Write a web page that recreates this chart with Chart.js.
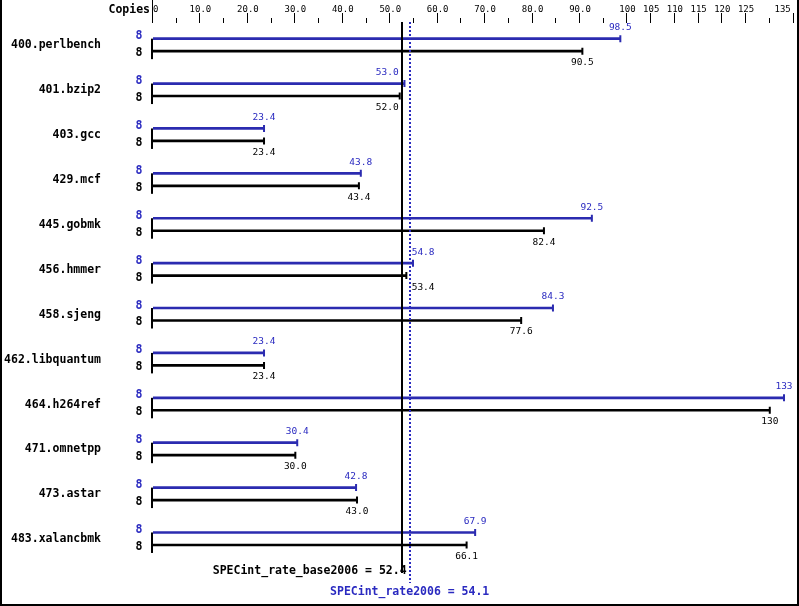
<!DOCTYPE html>
<html><head><meta charset="utf-8">
<script src="https://cdn.jsdelivr.net/npm/chart.js@4/dist/chart.umd.min.js"></script>
<style>html,body{margin:0;padding:0;background:#fff}#wrap{width:799px;height:606px;position:relative}</style>
</head><body><div id="wrap"><canvas id="c" width="799" height="606"></canvas></div>
<script>
const benchmarks = ["400.perlbench","401.bzip2","403.gcc","429.mcf","445.gobmk","456.hmmer","458.sjeng","462.libquantum","464.h264ref","471.omnetpp","473.astar","483.xalancbmk"];
const peakValues = [98.5, 53.0, 23.4, 43.8, 92.5, 54.8, 84.3, 23.4, 133, 30.4, 42.8, 67.9];
const baseValues = [90.5, 52.0, 23.4, 43.4, 82.4, 53.4, 77.6, 23.4, 130, 30.0, 43.0, 66.1];
const peakCopies = [8, 8, 8, 8, 8, 8, 8, 8, 8, 8, 8, 8];
const baseCopies = [8, 8, 8, 8, 8, 8, 8, 8, 8, 8, 8, 8];
const tickValues = [0,5,10,15,20,25,30,35,40,45,50,55,60,65,70,75,80,85,90,95,100,105,110,115,120,125,130,135];
const tickLabels = ["0","","10.0","","20.0","","30.0","","40.0","","50.0","","60.0","","70.0","","80.0","","90.0","","100","105","110","115","120","125","","135"];
const specBaseName = "SPECint_rate_base2006";
const specPeakName = "SPECint_rate2006";
const specBase = 52.4;
const specPeak = 54.1;

const BLUE = "#2b2bb0";
const BLUE_TXT = "#2a2ac0";
const MONO = "'DejaVu Sans Mono', 'Liberation Mono', monospace";
const BASE_OFF = 0.278;

function fmt(v){ return v >= 100 ? String(Math.round(v)) : v.toFixed(1); }

const peakBars = peakValues.map((v,i)=>({x:v, y:i}));
const baseBars = baseValues.map((v,i)=>({x:v, y:i+BASE_OFF}));

const overlay = {
  id: 'overlay',
  afterDatasetsDraw(chart){
    const ctx = chart.ctx;
    const xs = chart.scales.x, ys = chart.scales.y;
    const x0 = xs.getPixelForValue(0);
    const bPx = xs.getPixelForValue(specBase);
    const pPx = xs.getPixelForValue(specPeak);
    ctx.save();
    // top tick marks
    ctx.fillStyle = '#000';
    tickValues.forEach((v,i)=>{
      const px = Math.round(xs.getPixelForValue(v));
      if (i === 0) { ctx.fillRect(px-1, 0, 1, 23); return; }
      const major = tickLabels[i] !== "";
      ctx.fillRect(px-1, major ? 13 : 18, 1, major ? 10 : 5);
    });
    // header
    ctx.font = "bold 11.5px " + MONO;
    ctx.textBaseline = 'middle';
    ctx.textAlign = 'right';
    ctx.fillText("Copies", 150, 10);
    benchmarks.forEach((name,i)=>{
      const yp = ys.getPixelForValue(i);
      const yb = ys.getPixelForValue(i+BASE_OFF);
      // bracket
      ctx.fillStyle = '#000';
      ctx.fillRect(Math.round(x0)-2, yp, 2, yb - yp + 8);
      // names
      ctx.font = "bold 11.5px " + MONO;
      ctx.textAlign = 'right';
      ctx.fillText(name, 101, (yp+yb)/2 + 0.5);
      // copies
      ctx.textAlign = 'center';
      ctx.fillStyle = BLUE_TXT;
      ctx.fillText(String(peakCopies[i]), 139, yp - 2.5);
      ctx.fillStyle = '#000';
      ctx.fillText(String(baseCopies[i]), 139, yb + 2);
      // values
      ctx.font = "9.5px " + MONO;
      const drawVal = (v, y, color) => {
        const txt = fmt(v);
        const c = xs.getPixelForValue(v);
        const w = ctx.measureText(txt).width;
        let x = c, align = 'center';
        if (c + w/2 > bPx - 2 && c - w/2 < pPx + 2) {
          if (c < (bPx + pPx)/2) { x = bPx - 3; align = 'right'; }
          else { x = pPx + 2; align = 'left'; }
        }
        if (align === 'center' && x + w/2 > 793) { x = 793; align = 'right'; }
        ctx.textAlign = align;
        ctx.fillStyle = color;
        ctx.fillText(txt, x, y);
      };
      drawVal(peakValues[i], yp - 11, BLUE_TXT);
      drawVal(baseValues[i], yb + 11.5, '#000');
    });
    // reference lines
    ctx.fillStyle = '#000';
    ctx.fillRect(Math.round(bPx)-1, 22, 2, 551);
    ctx.strokeStyle = BLUE_TXT;
    ctx.lineWidth = 2;
    ctx.setLineDash([2,2]);
    ctx.beginPath();
    ctx.moveTo(Math.round(pPx), 22);
    ctx.lineTo(Math.round(pPx), 583);
    ctx.stroke();
    ctx.setLineDash([]);
    ctx.font = "bold 11.5px " + MONO;
    ctx.textBaseline = 'middle';
    ctx.fillStyle = '#000';
    ctx.textAlign = 'right';
    ctx.fillText(specBaseName + " = " + specBase.toFixed(1), bPx + 5, 571);
    ctx.fillStyle = BLUE_TXT;
    ctx.textAlign = 'center';
    ctx.fillText(specPeakName + " = " + specPeak.toFixed(1), pPx, 592);
    // frame
    ctx.fillStyle = '#000';
    ctx.fillRect(0, 0, 2, 606);
    ctx.fillRect(797, 0, 2, 606);
    ctx.fillRect(0, 604, 799, 2);
    ctx.restore();
  }
};

new Chart(document.getElementById('c'), {
  type: 'bar',
  data: {
    datasets: [
      { label: 'peak', data: peakBars, backgroundColor: BLUE, barThickness: 2, grouped: false, indexAxis: 'y', order: 2 },
      { label: 'base', data: baseBars, backgroundColor: '#000', barThickness: 2, grouped: false, indexAxis: 'y', order: 2 },
      { type: 'scatter', label: 'peak cap', data: peakBars, showLine: false, pointStyle: 'line', rotation: 90, pointRadius: 3.5, pointHoverRadius: 3.5, borderColor: BLUE, backgroundColor: BLUE, borderWidth: 2, order: 1 },
      { type: 'scatter', label: 'base cap', data: baseBars, showLine: false, pointStyle: 'line', rotation: 90, pointRadius: 3.5, pointHoverRadius: 3.5, borderColor: '#000', backgroundColor: '#000', borderWidth: 2, order: 1 }
    ]
  },
  options: {
    responsive: false,
    animation: false,
    devicePixelRatio: 1,
    events: [],
    indexAxis: 'y',
    layout: { padding: { top: 1.5, left: 153, right: 3, bottom: 46 } },
    plugins: { legend: { display: false }, tooltip: { enabled: false } },
    scales: {
      x: {
        type: 'linear', position: 'top', min: 0, max: 135, offset: false,
        grid: { display: false },
        border: { display: false },
        afterBuildTicks: (s) => { s.ticks = tickValues.map(v => ({ value: v })); },
        afterFit: (s) => { s.paddingLeft = 0; s.paddingRight = 0; },
        ticks: {
          autoSkip: false, maxRotation: 0, minRotation: 0, padding: 3.1,
          color: '#000',
          font: { family: MONO, size: 9, lineHeight: 1.2 },
          callback: (v, i) => {
            const t = tickLabels[i];
            if (i === 0) return " " + t;
            if (i === tickLabels.length - 1) return t + "    ";
            return t;
          }
        }
      },
      y: {
        type: 'linear', reverse: true, display: false, offset: false,
        min: -0.271, max: 11.613
      }
    }
  },
  plugins: [overlay]
});
</script>
</body></html>
